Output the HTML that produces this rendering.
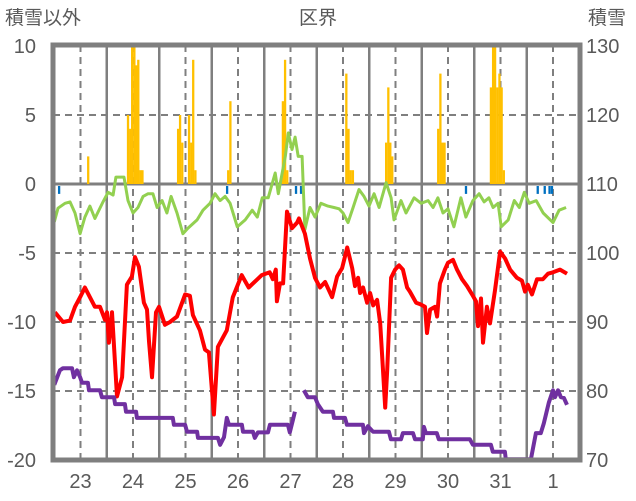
<!DOCTYPE html>
<html><head><meta charset="utf-8">
<style>
body{margin:0;background:#fff;}
svg{display:block;font-family:"Liberation Sans","Noto Sans CJK JP",sans-serif;}
</style></head>
<body>
<svg id="chart" width="636" height="501" viewBox="0 0 636 501">
<text x="5" y="24" font-size="19" fill="#595959">積雪以外</text>
<text x="318" y="24" font-size="19" fill="#595959" text-anchor="middle">区界</text>
<text x="588" y="24" font-size="19" fill="#595959">積雪</text>
<g id="grid"></g>
<g id="bars"></g>
<g id="lines"></g>
<g id="frame"></g>
<g id="labels"></g>
</svg>
<script>
const dayLabels=["23","24","25","26","27","28","29","30","31","1"];
const leftTicks=[10,5,0,-5,-10,-15,-20];
const rightTicks=[130,120,110,100,90,80,70];
const redHours=[0.3,4,7.2,9.5,11.8,14,16.3,18.6,20.9,23.2,24.1,25,26.4,28.7,31,33.2,35.5,36.9,38.7,41,42.4,43.3,44.7,46.5,47.9,50.6,52.9,56.1,59.8,62,63.4,66.6,68.9,70.7,73,74.8,78.9,81.6,85.7,88.9,94.9,98.5,99.9,101.3,101.8,103.2,104.6,106.4,108.7,111,111.9,114.6,116.9,119.2,121.5,123.8,127,129.3,131.6,133.9,136.2,137.5,138.9,139.8,141.2,143,144.4,145.8,147.6,149,150.3,151.3,152.2,154,155.8,157.6,159.4,161.3,162.6,165.4,167.2,169.5,170.4,171.8,174,175,176.3,178.6,180,182.3,184.1,186.4,188.7,191,192.8,193.7,195.1,196,197.8,199.2,201.5,203.8,206.1,208.4,211.5,213.8,215.2,216.5,218.4,220.7,223.4,225.7,228,231.2,234.4];
const redValues=[-9.3,-10,-9.9,-8.9,-8.2,-7.5,-8.2,-8.9,-8.9,-9.85,-9.3,-11.5,-9.3,-15.4,-14,-7.3,-6.7,-5.3,-6,-8.6,-9.1,-11.4,-14,-9.3,-8.9,-10.2,-10,-9.6,-8,-8.1,-9.5,-10.6,-12,-12.2,-16.7,-11.8,-10.6,-8.2,-6.6,-7.5,-6.6,-6.4,-6.9,-6.2,-8.5,-7.2,-7.2,-2,-3.2,-2.8,-2.5,-3.6,-5.4,-6.8,-7.5,-7.1,-8.2,-6.7,-6.1,-4.6,-6.1,-7.4,-6.8,-7.9,-7.5,-8.6,-7.9,-8.8,-8.4,-10.1,-13.5,-16.2,-13.5,-6.8,-6.2,-5.9,-6.2,-7.5,-7.8,-8.6,-8.7,-8.9,-10.8,-9.1,-8.9,-9.6,-7.2,-6.2,-5.7,-5.5,-6.2,-6.9,-7.4,-8,-8.5,-10.3,-8.3,-11.5,-8.9,-10.1,-7.7,-4.9,-5.4,-6.2,-6.8,-7,-7.8,-7.3,-8,-6.9,-6.9,-6.5,-6.4,-6.2,-6.5];
const greenHours=[0,1.7,4.9,7.2,9.5,11.8,14,16.3,18.6,22.3,24.6,26.9,28.2,31.9,33.7,36,38.3,40.6,42.9,45.1,47,49.3,51.5,53.4,56.1,58.8,61.1,65.3,68,71.2,73.5,75.8,78.1,80.4,83.7,87.3,90.5,92.8,95.1,97.8,101,102.4,105.6,107,108.7,110.1,111.5,113.3,114.6,116.9,119.2,121.9,125.1,127.9,130.2,132,134.3,136.6,139.3,141.6,143.9,146.2,148.5,151.7,154,155.3,158.5,160.8,164.5,167.7,170.9,173.2,175.4,177.7,180,182.7,185.9,188.2,191.4,194.2,196.5,198.7,200.6,202.9,204.3,207.5,210.3,212.6,214.9,217.1,220.3,223.5,228,230.8,234];
const greenValues=[-2.75,-1.75,-1.4,-1.3,-2.1,-3.6,-2.4,-1.6,-2.5,-1.3,-0.6,-0.8,0.5,0.5,-1.2,-2.1,-1.7,-0.9,-0.7,-0.7,-1.7,-1.2,-2.1,-0.9,-2.1,-3.6,-3.2,-2.6,-1.9,-1.4,-0.7,-1.2,-0.9,-1.4,-3.1,-2.6,-1.9,-2.4,-1,-1,0.8,-0.7,2,3.7,2.5,3.4,2,2,-3.3,-1.7,-2.4,-1.4,-1.6,-1.7,-1.8,-2.1,-2.8,-1.7,-0.4,-0.9,-1.6,-0.7,-1.7,0.1,-1,-2.6,-1.2,-2.1,-1,-1.4,-1.2,-1.7,-1,-2.1,-1.8,-3.1,-1,-2.4,-1.2,-0.7,-1.3,-1,-1.7,-1.4,-3.1,-2.6,-1.2,-1.7,-0.6,-1.4,-1.2,-2.1,-2.8,-1.9,-1.7];
const snowHours=[0,2.6,4,8.1,9,10.4,11.8,12.7,15.4,15.9,20.9,21.8,27.3,27.8,32.3,32.8,37.4,37.8,54.2,54.7,59.8,60.7,65.3,65.7,74.8,75.8,77.6,78.9,79.9,85.8,86.3,90.8,91.7,93.1,97.7,98.6,106.8,107.7,109.1,110,112,114.1,115.9,119.2,120.5,122.8,127.4,127.9,132.9,133.8,141.1,141.6,143.4,145.7,153,153.9,158.5,159.4,164,164.9,168.5,169,169.9,174.9,175.8,190,191.4,199.6,200.5,206,206.4,217.9,220.2,222.4,223.8,226.1,228,228.9,230.3,231.6,233,234.4];
const snowValues=[80.9,83,83.3,83.3,82,83,82,81.2,81.2,80.1,80.1,79.1,79.1,78.1,78.1,77,77,76.1,76.1,75.1,75.1,74.1,74.1,73.2,73.2,72.2,73.3,76.1,75.1,75.1,74.1,74.1,73.2,74,74,75.1,75.1,74,75.8,77,null,80.1,79.1,79.1,78.1,77,77,76.1,76.1,75.1,75.1,73.9,74.9,74.1,74.1,73,73,73.9,73.9,73,73,74.8,73.9,73.9,73,73,72.2,72.2,71.2,71.2,70.1,70.1,73.9,73.9,75.3,78.3,80.1,79.1,80.1,79.1,79,78];
const precipHours=[15.5,33.7,34.7,35.6,36.6,37.5,38.4,39.4,40.3,56.6,57.5,58.5,61.6,62.6,63.5,64.5,79.5,80.5,104.5,105.5,106.5,133.5,134.5,135.5,136.5,151.7,152.7,153.6,154.5,175.5,176.5,177.5,178.4,199.6,200.6,201.5,202.5,203.5,204.5,205.5];
const precipValues=[2,5,4,10,10,8.6,9,1,1,4,5,3,5,3,9,1,1,6,6,9,1,8,4,1,1,3,7,3,2,4,8,3,3,7,10,10,7,8,7,1];
const negHours=[2.2,79,110.5,112.8,188.2,221,224.2,226.4,227.5];
const negValues=[-0.5,-0.5,-0.5,-0.5,-0.5,-0.5,-0.5,-0.5,-0.5];

const NS="http://www.w3.org/2000/svg";
const X0=54.25, PXH=2.1875, L=53, R=580, T=45, B=460;
function xOf(h){return X0+h*PXH;}
function yL(v){return 184-v*13.8;}
function yR(r){return yL((r-110)/2);}
function mk(tag,attrs,parent){const e=document.createElementNS(NS,tag);for(const k in attrs)e.setAttribute(k,attrs[k]);parent.appendChild(e);return e;}
const grid=document.getElementById('grid'),bars=document.getElementById('bars'),lines=document.getElementById('lines'),frame=document.getElementById('frame'),labels=document.getElementById('labels');
leftTicks.forEach(function(v){
  if(v===10||v===-20||v===0)return;
  const g=mk('line',{x1:L,x2:R,y1:yL(v),y2:yL(v),stroke:'#7f7f7f','stroke-width':2,'stroke-dasharray':'7,5'},grid);
  
  
});
for(let d=0;d<10;d++){
  const xd=xOf(12+24*d);
  const g=mk('line',{x1:xd,x2:xd,y1:T,y2:B,stroke:'#7f7f7f','stroke-width':2,'stroke-dasharray':'7,5'},grid);
  
  
  const xs=xOf(24+24*d);
  if(xs<R-2){
    const s=mk('line',{x1:xs,x2:xs,y1:T,y2:B,stroke:'#7f7f7f','stroke-width':2.5},grid);
    
    
  }
}
precipHours.forEach(function(h,i){
  const b=mk('rect',{x:xOf(h)-1.1,y:yL(precipValues[i]),width:2.3,height:yL(0)-yL(precipValues[i]),fill:'#ffc000'},bars);
  
  
});
negHours.forEach(function(h,i){
  const b=mk('rect',{x:xOf(h)-1.1,y:yL(0)+2,width:2.3,height:yL(negValues[i])-yL(0)+1,fill:'#0070c0'},bars);
  
  
});
const z=mk('line',{x1:L,x2:R,y1:yL(0),y2:yL(0),stroke:'#7f7f7f','stroke-width':3},grid);


function path(hs,vs,yf){let d='',pen=false;hs.forEach(function(h,i){if(vs[i]===null){pen=false;return;}d+=(pen?'L':'M')+xOf(h).toFixed(1)+','+yf(vs[i]).toFixed(1);pen=true;});return d;}
const gp=mk('path',{d:path(greenHours,greenValues,yL),fill:'none',stroke:'#92d050','stroke-width':3,'stroke-linejoin':'round'},lines);


const rp=mk('path',{d:path(redHours,redValues,yL),fill:'none',stroke:'#ff0000','stroke-width':4,'stroke-linejoin':'round'},lines);


const pp=mk('path',{d:path(snowHours,snowValues,yR),fill:'none',stroke:'#7030a0','stroke-width':4,'stroke-linejoin':'round'},lines);


const fr=mk('rect',{x:L,y:T,width:R-L,height:B-T,fill:'none',stroke:'#7f7f7f','stroke-width':5},frame);


leftTicks.forEach(function(v){
  const t=mk('text',{x:36,y:yL(v)+7,'font-size':20,fill:'#595959','text-anchor':'end'},labels);
  t.textContent=String(v);
  
  
});
rightTicks.forEach(function(r){
  const t=mk('text',{x:586,y:yR(r)+7,'font-size':20,fill:'#595959'},labels);
  t.textContent=String(r);
  
  
});
dayLabels.forEach(function(s,d){
  const t=mk('text',{x:xOf(12+24*d),y:488,'font-size':20,fill:'#595959','text-anchor':'middle'},labels);
  t.textContent=s;
  
  
});
</script>
</body></html>
